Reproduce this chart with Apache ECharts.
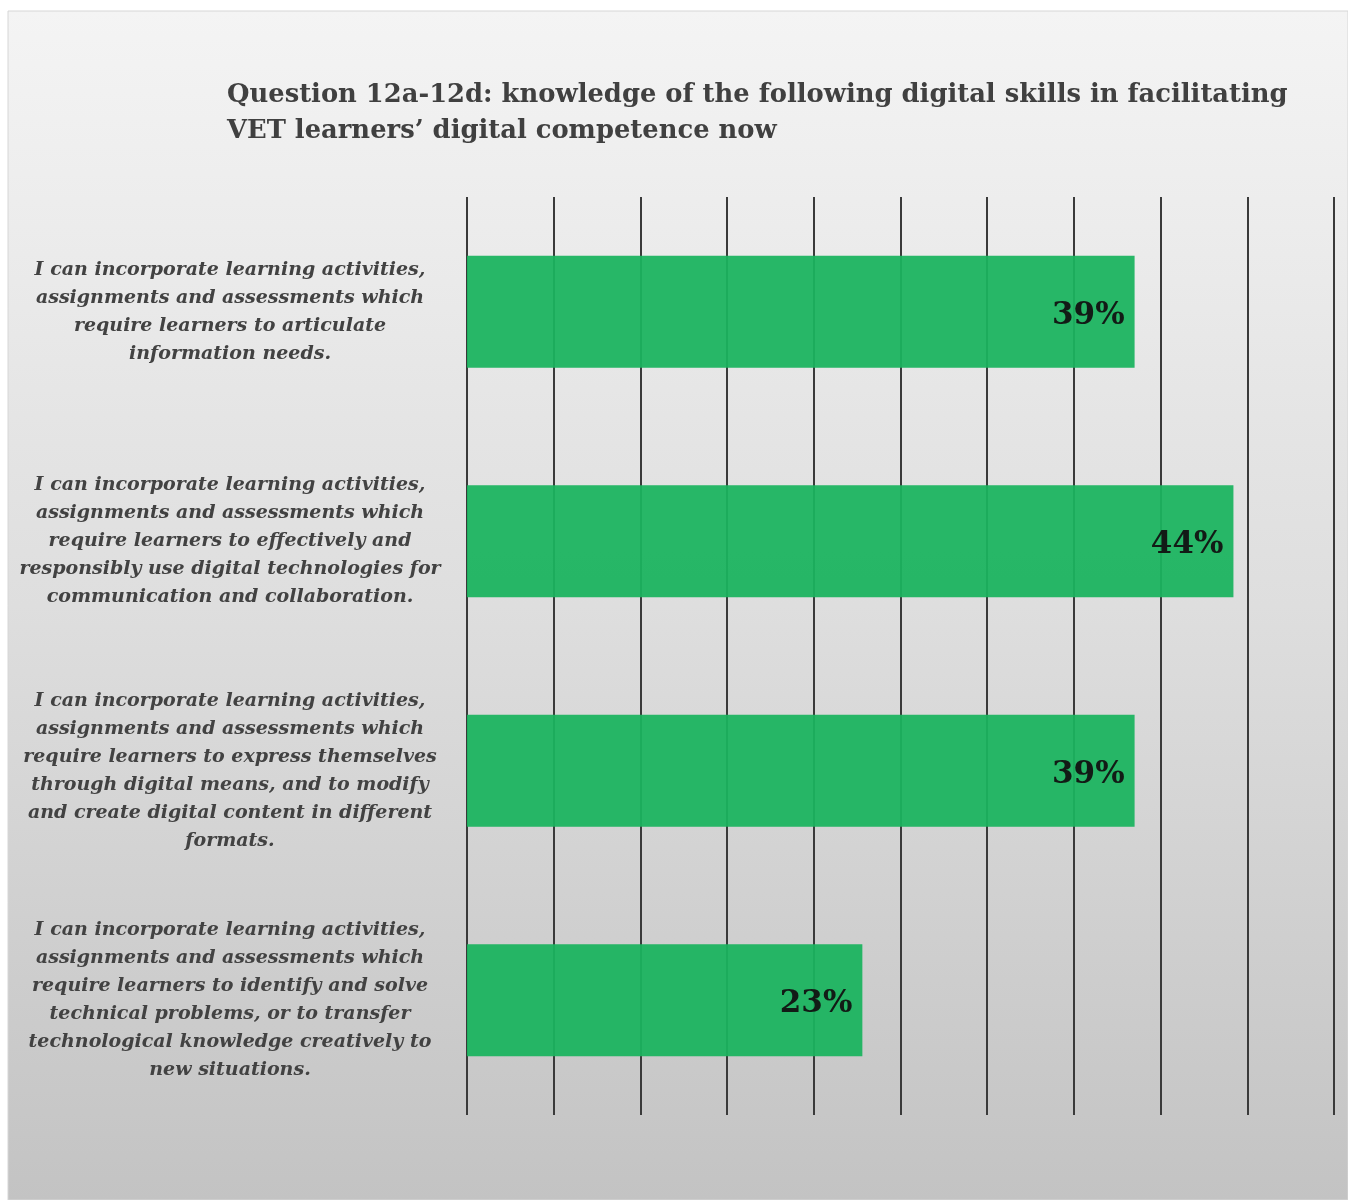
<!DOCTYPE html>
<html>
<head>
<meta charset="utf-8">
<script src="https://cdn.jsdelivr.net/npm/echarts@6/dist/echarts.min.js"></script>
<style>
html,body{margin:0;padding:0;background:#ffffff;}
#chart{width:1348px;height:1200px;}
</style>
</head>
<body>
<div id="chart"></div>
<script>
var titleText = 'Question 12a-12d: knowledge of the following digital skills in facilitating\nVET learners\u2019 digital competence now';
var categories = [
  'I can incorporate learning activities,\nassignments and assessments which\nrequire learners to articulate\ninformation needs.',
  'I can incorporate learning activities,\nassignments and assessments which\nrequire learners to effectively and\nresponsibly use digital technologies for\ncommunication and collaboration.',
  'I can incorporate learning activities,\nassignments and assessments which\nrequire learners to express themselves\nthrough digital means, and to modify\nand create digital content in different\nformats.',
  'I can incorporate learning activities,\nassignments and assessments which\nrequire learners to identify and solve\ntechnical problems, or to transfer\ntechnological knowledge creatively to\nnew situations.'
];
var values = [38.5, 44.2, 38.5, 22.8];
var axisMin = 0, axisMax = 50, axisInterval = 5;

var chart = echarts.init(document.getElementById('chart'), null, {renderer:'canvas'});
chart.setOption({
  animation:false,
  backgroundColor:'#ffffff',
  graphic:[{
    type:'rect', z:-10, silent:true,
    shape:{x:8,y:11,width:1340,height:1189},
    style:{
      fill:new echarts.graphic.LinearGradient(0,0,0,1,[
        {offset:0,color:'#f4f4f4'},
        {offset:0.5,color:'#dedede'},
        {offset:1,color:'#c3c3c3'}
      ]),
      stroke:'#d6d6d6', lineWidth:1
    }
  }],
  title:{
    text:titleText,
    left:222, top:72,
    textStyle:{fontFamily:'DejaVu Serif', fontWeight:'bold', fontSize:25.8, color:'#404040', lineHeight:36}
  },
  grid:{left:467, right:14, top:197, bottom:85, containLabel:false},
  xAxis:{
    type:'value', min:axisMin, max:axisMax, interval:axisInterval,
    axisLabel:{show:false}, axisLine:{show:false}, axisTick:{show:false},
    splitLine:{show:true, lineStyle:{color:'#3a3a3a', width:2}}
  },
  yAxis:{
    type:'category', data:categories, inverse:true,
    axisLine:{show:false}, axisTick:{show:false},
    axisLabel:{
      align:'center', margin:237,
      fontFamily:'DejaVu Serif', fontStyle:'italic', fontWeight:'bold',
      fontSize:19, lineHeight:28, color:'#424242'
    }
  },
  series:[{
    type:'bar', data:values, barWidth:112, z:1,
    itemStyle:{color:'#1bb45f', opacity:0.94},
    label:{
      show:true, position:'insideRight', distance:10, offset:[0,4],
      formatter:function(p){return Math.round(p.value)+'%';},
      fontFamily:'DejaVu Serif', fontWeight:'bold', fontSize:31, color:'#111111'
    }
  }]
});
</script>
</body>
</html>
